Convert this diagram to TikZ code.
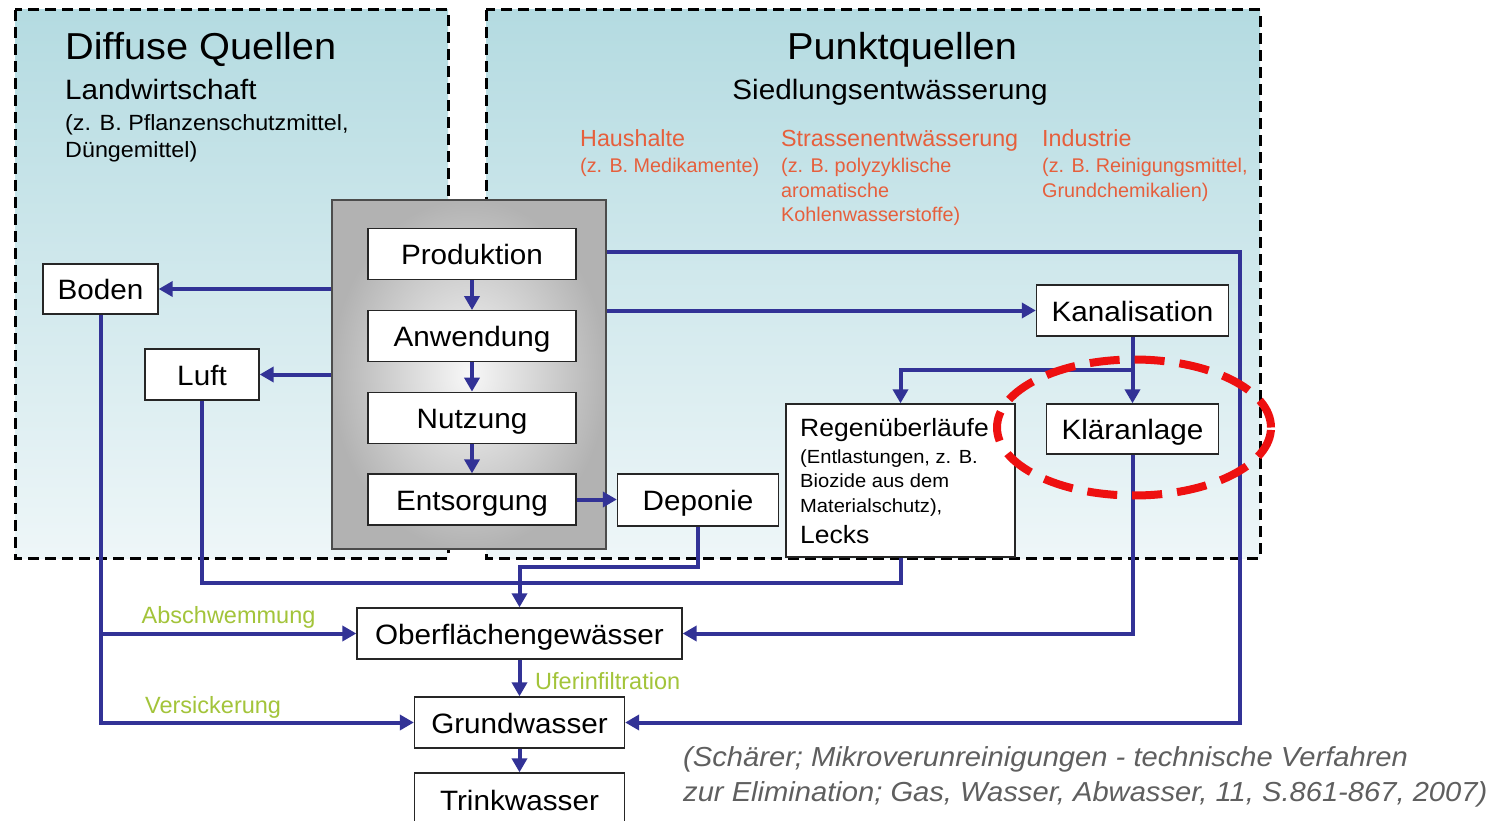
\documentclass[tikz,border=0pt]{standalone}
\usepackage{fontspec}
\setmainfont{Liberation Sans}
\newfontfamily\wf{Liberation Sans}[FakeStretch=1.06]
\usetikzlibrary{arrows.meta}
\definecolor{flow}{RGB}{50,50,150}
\definecolor{bgtop}{RGB}{180,219,225}
\definecolor{bgbot}{RGB}{238,246,248}
\definecolor{srcred}{RGB}{230,95,60}
\definecolor{lblgreen}{RGB}{163,196,58}
\definecolor{citegray}{RGB}{95,95,95}
\definecolor{ringred}{RGB}{238,16,16}
\begin{document}
\begin{tikzpicture}[x=1pt,y=-1pt,
  box/.style={draw=black!85, line width=1.3pt, fill=white, inner sep=0pt,
    text height=23pt, text depth=2pt, font=\wf\fontsize{28}{32}\selectfont, text=black},
  flowline/.style={draw=flow, line width=4pt},
  arr/.style={flowline, -{Triangle[length=14pt,width=15pt]}},
  dashbox/.style={draw=black, line width=3pt, dash pattern=on 11pt off 6pt, top color=bgtop, bottom color=bgbot},
  t/.style={anchor=base west, inner sep=0pt},
  tc/.style={anchor=base, inner sep=0pt},
  title/.style={font=\wf\fontsize{37.5}{40}\selectfont},
  subtitle/.style={font=\wf\fontsize{28}{32}\selectfont},
  small/.style={font=\wf\fontsize{22}{26}\selectfont},
  redhead/.style={text=srcred, font=\fontsize{23.3}{26}\selectfont},
  redsub/.style={text=srcred, font=\fontsize{19.8}{23}\selectfont},
  lbl/.style={text=lblgreen, font=\fontsize{23.5}{26}\selectfont},
  ring/.style={draw=ringred, line width=8pt, dash pattern=on 30pt off 15pt},
  ]
\clip (0,0) rectangle (1508,821);
\fill[white] (0,0) rectangle (1508,821);

% source areas
\path[dashbox] (15,10) rectangle (448,558);
\path[dashbox] (486,10) rectangle (1260,558);

% area texts
\node[t, title] (dq) at (65,59.5) {Diffuse Quellen};
\node[t, subtitle] (lw) at (65,100) {Landwirtschaft};
\node[t, small] (lw1) at (65,131) {(z. B. Pflanzenschutzmittel,};
\node[t, small] (lw2) at (65,158) {Düngemittel)};
\node[tc, title] (pq) at (902,60) {Punktquellen};
\node[tc, subtitle] (se) at (890,100) {Siedlungsentwässerung};
\node[t, redhead] (hh) at (580,146.7) {Haushalte};
\node[t, redsub] (hh1) at (580,173) {(z. B. Medikamente)};
\node[t, redhead] (st) at (781,146.7) {Strassenentwässerung};
\node[t, redsub] (st1) at (781,173) {(z. B. polyzyklische};
\node[t, redsub] (st2) at (781,197.5) {aromatische};
\node[t, redsub] (st3) at (781,222) {Kohlenwasserstoffe)};
\node[t, redhead] (in) at (1042,146.7) {Industrie};
\node[t, redsub] (in1) at (1042,173) {(z. B. Reinigungsmittel,};
\node[t, redsub] (in2) at (1042,197.5) {Grundchemikalien)};

% life cycle block
\node[draw=black!70, line width=1.5pt, inner color=gray!6, outer color=gray!60,
  minimum width=274pt, minimum height=349pt, inner sep=0pt] (lc) at (469,374.5) {};
\node[box, minimum width=208pt, minimum height=51pt] (prod) at (472,254.2) {Produktion};
\node[box, minimum width=208pt, minimum height=51pt] (anw) at (472,336.2) {Anwendung};
\node[box, minimum width=208pt, minimum height=51pt] (nutz) at (472,417.8) {Nutzung};
\node[box, minimum width=208pt, minimum height=51pt] (ents) at (472,499.5) {Entsorgung};

% other nodes
\node[box, minimum width=115pt, minimum height=50pt] (boden) at (100.5,289) {Boden};
\node[box, minimum width=114pt, minimum height=51pt] (luft) at (202,374.5) {Luft};
\node[box, minimum width=192pt, minimum height=51pt] (kanal) at (1132.5,310.5) {Kanalisation};
\node[box, minimum width=172pt, minimum height=50pt] (klaer) at (1132.5,429) {Kläranlage};
\node[box, minimum width=161pt, minimum height=52pt] (depo) at (698,500) {Deponie};
\node[box, minimum width=229pt, minimum height=153pt] (regen) at (900.5,480.5) {};
\node[t, font=\wf\fontsize{25}{28}\selectfont] (rg0) at (800,436.7) {Regenüberläufe};
\node[t, font=\wf\fontsize{19}{22}\selectfont] (rg1) at (800,463.3) {(Entlastungen, z. B.};
\node[t, font=\wf\fontsize{19}{22}\selectfont] (rg2) at (800,487.5) {Biozide aus dem};
\node[t, font=\wf\fontsize{19}{22}\selectfont] (rg3) at (800,512.5) {Materialschutz),};
\node[t, font=\wf\fontsize{25}{28}\selectfont] (rg4) at (800,543.3) {Lecks};
\node[box, minimum width=325pt, minimum height=51pt] (ober) at (519.5,633.5) {Oberflächengewässer};
\node[box, minimum width=210pt, minimum height=51pt] (grund) at (519.5,722.5) {Grundwasser};
\node[box, minimum width=210pt, minimum height=54pt] (trink) at (519.5,800) {Trinkwasser};

% connectors
\draw[arr] (prod) -- (anw);
\draw[arr] (anw) -- (nutz);
\draw[arr] (nutz) -- (ents);
\draw[arr] (ents.east) -- (depo.west|-ents.east);
\draw[arr] (lc.west|-boden) -- (boden.east);
\draw[arr] (lc.west|-luft) -- (luft.east);
\coordinate (r1) at (1240,252);
\draw[arr] (lc.east|-r1) -- (r1) -- (r1|-grund) -- (grund.east);
\draw[arr] (lc.east|-kanal) -- (kanal.west);
\coordinate (br) at (1132.5,370);
\draw[arr] (kanal.south) -- (klaer.north);
\draw[arr] (br) -- (regen.north|-br) -- (regen.north);
\draw[arr] (klaer.south) -- (klaer.south|-ober) -- (ober.east);
\draw[arr] (boden.south) -- (boden.south|-grund) -- (grund.west);
\draw[arr] (boden.south|-ober) -- (ober.west);
\coordinate (c583) at (519.5,583);
\draw[flowline] (luft.south) -- (luft.south|-c583) -- (regen.south|-c583) -- (regen.south);
\coordinate (j) at (519.5,566.5);
\draw[arr] (depo.south) -- (depo.south|-j) -- (j) -- (ober.north);
\draw[arr] (ober) -- (grund);
\draw[arr] (grund) -- (trink);

% connector labels
\node[t, lbl] (abs) at (141.5,623.3) {Abschwemmung};
\node[t, lbl] (ver) at (145,713.3) {Versickerung};
\node[t, lbl] (ufr) at (535,689) {Uferinfiltration};

% highlight ring
\draw[ring] (1134,427.5) ellipse [x radius=137pt, y radius=68pt];

% citation
\node[t, text=citegray, font=\wf\itshape\fontsize{27.5}{32}\selectfont] (cit1) at (683,766.5) {(Schärer; Mikroverunreinigungen - technische Verfahren};
\node[t, text=citegray, font=\wf\itshape\fontsize{27.5}{32}\selectfont] (cit2) at (683,801) {zur Elimination; Gas, Wasser, Abwasser, 11, S.861-867, 2007)};
\end{tikzpicture}
\end{document}
